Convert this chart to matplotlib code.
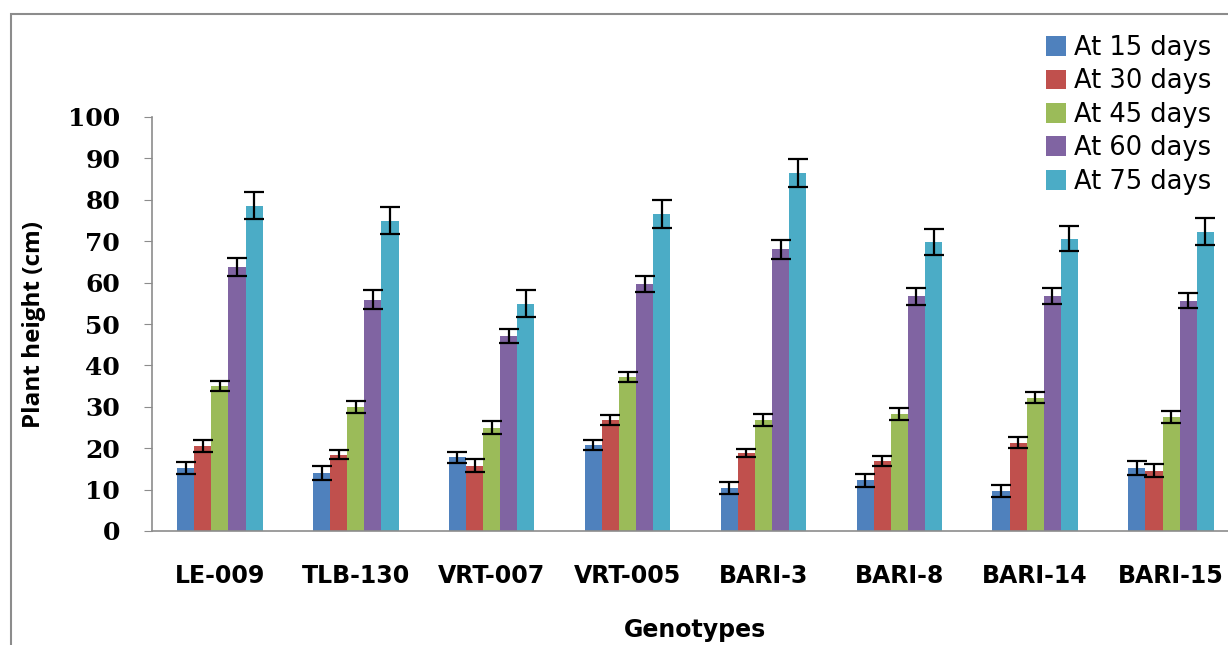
import numpy as np
import matplotlib
matplotlib.use("Agg")
import matplotlib.pyplot as plt
from matplotlib.patches import Rectangle

genotypes = ["LE-009", "TLB-130", "VRT-007", "VRT-005", "BARI-3", "BARI-8", "BARI-14", "BARI-15"]
stages = ["At 15 days", "At 30 days", "At 45 days", "At 60 days", "At 75 days"]

# plant height (cm) per stage, one value per genotype
day15 = [15.2, 14.0, 17.8, 20.8, 10.4, 12.2, 9.6, 15.2]
day30 = [20.5, 18.4, 15.8, 26.8, 18.9, 16.8, 21.3, 14.6]
day45 = [35.0, 30.0, 25.0, 37.2, 26.8, 28.3, 32.2, 27.5]
day60 = [63.8, 55.9, 47.1, 59.7, 68.0, 56.7, 56.7, 55.6]
day75 = [78.6, 75.0, 54.9, 76.6, 86.5, 69.8, 70.6, 72.3]

err15 = [1.4, 1.6, 1.4, 1.3, 1.5, 1.5, 1.5, 1.6]
err30 = [1.4, 1.1, 1.5, 1.2, 1.0, 1.2, 1.3, 1.6]
err45 = [1.3, 1.5, 1.5, 1.3, 1.4, 1.4, 1.4, 1.4]
err60 = [2.1, 2.2, 1.7, 2.0, 2.2, 2.1, 1.9, 1.8]
err75 = [3.3, 3.2, 3.2, 3.4, 3.4, 3.2, 3.0, 3.3]

values = [day15, day30, day45, day60, day75]
errors = [err15, err30, err45, err60, err75]
colors = ["#4F81BD", "#C0504D", "#9BBB59", "#8064A2", "#4BACC6"]

fig = plt.figure(figsize=(12.28, 6.45), dpi=100)

# outer chart border (cut off on the right and bottom)
fig.patches.append(Rectangle((11 / 1228, -0.05), 1.1, 1 - 14 / 645 + 0.05,
                             transform=fig.transFigure, fill=False,
                             edgecolor="#8c8c8c", linewidth=1.5))

ax = fig.add_axes([152 / 1228, 114 / 645, 1087 / 1228, 414 / 645])

x = np.arange(len(genotypes))
w = 0.126
for i, (vals, errs) in enumerate(zip(values, errors)):
    ax.bar(x + (i - 2) * w, vals, w, color=colors[i], label=stages[i], zorder=2)
    ax.errorbar(x + (i - 2) * w, vals, yerr=errs, fmt="none", ecolor="black",
                elinewidth=1.6, capsize=7, capthick=1.6, zorder=3)

ax.set_xlim(-0.5, 7.5)
ax.set_ylim(0, 100)
ax.set_yticks(range(0, 101, 10))
ax.set_xticks(x)
ax.set_xticklabels(genotypes, fontfamily="DejaVu Sans", fontweight="bold", fontsize=17)
for lbl in ax.get_yticklabels():
    lbl.set_fontfamily("DejaVu Serif")
    lbl.set_fontweight("bold")
    lbl.set_fontsize(18)

for s in ["top", "right"]:
    ax.spines[s].set_visible(False)
ax.spines["left"].set_color("#8c8c8c")
ax.spines["bottom"].set_color("#8c8c8c")
ax.spines["left"].set_linewidth(1.2)
ax.spines["bottom"].set_linewidth(1.2)
ax.tick_params(axis="y", direction="out", length=6, color="#8c8c8c", pad=17)
ax.tick_params(axis="x", length=0, pad=24)

ax.set_ylabel("Plant height (cm)", fontfamily="Open Sans", fontweight="bold", fontsize=17.5, labelpad=16)
ax.set_xlabel("Genotypes", fontfamily="DejaVu Sans", fontweight="bold", fontsize=17, labelpad=21)

leg = ax.legend(loc="upper left", bbox_to_anchor=(1033 / 1228, 1 - 22 / 645),
                bbox_transform=fig.transFigure, frameon=False,
                prop={"family": "DejaVu Sans", "size": 18.5}, handlelength=0.8, handleheight=0.8,
                handletextpad=0.3, labelspacing=0.29, borderpad=0)

fig.savefig("out.png", dpi=100)
